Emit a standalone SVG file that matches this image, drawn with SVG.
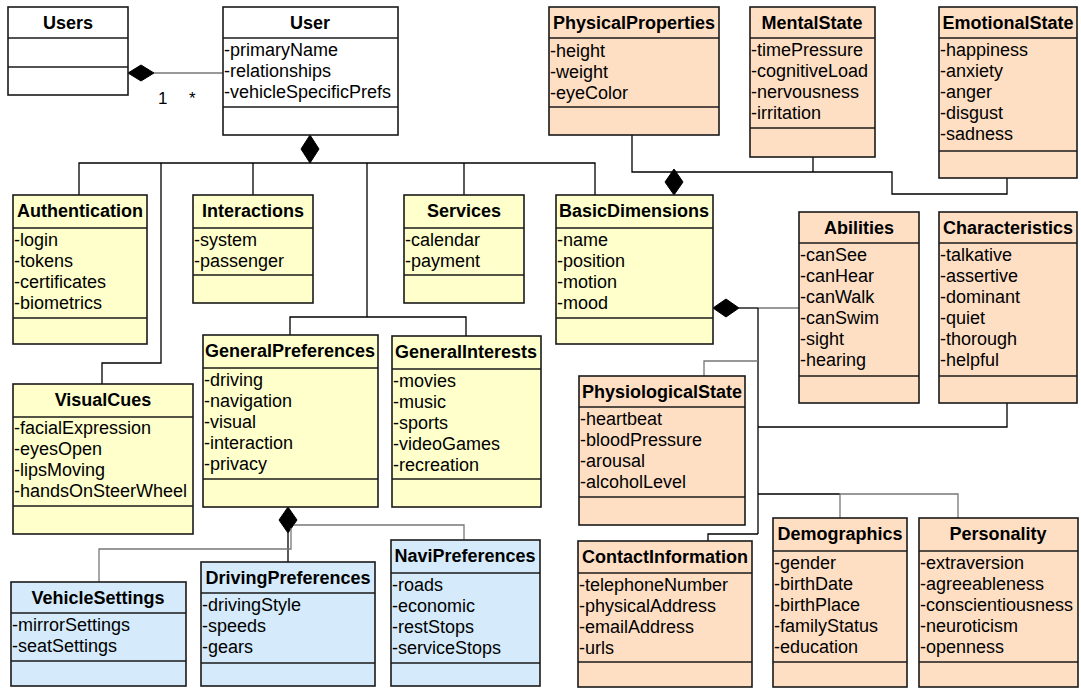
<svg xmlns="http://www.w3.org/2000/svg" width="1081" height="690" viewBox="0 0 1081 690">
<style>
.w{fill:#ffffff;stroke:#1a1a1a;stroke-width:1.6}
.y{fill:#ffffcc;stroke:#1a1a1a;stroke-width:1.6}
.p{fill:#ffdfc4;stroke:#1a1a1a;stroke-width:1.6}
.b{fill:#d5ebfb;stroke:#1a1a1a;stroke-width:1.6}
.d{stroke:#1a1a1a;stroke-width:1.6}
.t{font-family:"Liberation Sans",Arial,sans-serif;font-size:18px;font-weight:bold;text-anchor:middle;fill:#000}
.a{font-family:"Liberation Sans",Arial,sans-serif;font-size:18px;fill:#000}
.m{font-family:"Liberation Sans",Arial,sans-serif;font-size:17px;fill:#000000}
.k{fill:none;stroke:#000;stroke-width:1.3}
.g{fill:none;stroke:#777;stroke-width:1.3}
.dm{fill:#000;stroke:#000;stroke-width:1}
</style>
<g id="connectors">
<line class="g" x1="154" y1="73" x2="223" y2="73"/>
<path class="dm" d="M128,73 L141,65 L154,73 L141,81 Z"/>
<text class="m" x="158" y="104">1</text>
<text class="m" x="189" y="104">*</text>
<path class="dm" d="M310,135 L319,149 L310,163 L301,149 Z"/>
<polyline class="k" points="79,195 79,163 595,163 595,195"/>
<polyline class="k" points="161,163 161,363 102,363 102,384"/>
<line class="k" x1="253" y1="163" x2="253" y2="195"/>
<line class="k" x1="464" y1="163" x2="464" y2="195"/>
<line class="k" x1="367" y1="163" x2="367" y2="317"/>
<polyline class="k" points="290,335 290,317 466,317 466,336"/>
<polyline class="k" points="632,135 632,172 892,172 892,194 1007,194 1007,178"/>
<line class="k" x1="813" y1="157" x2="813" y2="172"/>
<path class="dm" d="M674,169 L683,182 L674,195 L665,182 Z"/>
<path class="dm" d="M713,308 L726,299 L739,308 L726,317 Z"/>
<line class="k" x1="739" y1="308" x2="758" y2="308"/>
<line class="g" x1="758" y1="308" x2="799" y2="308"/>
<line class="k" x1="758" y1="308" x2="758" y2="534"/>
<polyline class="g" points="758,361 704,361 704,376"/>
<polyline class="k" points="758,427 1007,427 1007,403"/>
<line class="k" x1="758" y1="494" x2="840" y2="494"/>
<polyline class="g" points="840,518 840,494 958,494 958,518"/>
<polyline class="k" points="758,534 708,534 708,541"/>
<path class="dm" d="M288,507 L297,520 L288,533 L279,520 Z"/>
<line class="k" x1="288" y1="533" x2="288" y2="562"/>
<polyline class="g" points="291,528 291,549 99,549 99,582"/>
<polyline class="g" points="294,525 464,525 464,540"/>
</g>
<g id="Users">
<rect class="w" x="8" y="7" width="120" height="88"/>
<line class="d" x1="8" y1="38" x2="128" y2="38"/>
<line class="d" x1="8" y1="67" x2="128" y2="67"/>
<text class="t" x="68" y="29">Users</text>
</g>
<g id="User">
<rect class="w" x="223" y="7" width="175" height="128"/>
<line class="d" x1="223" y1="38" x2="398" y2="38"/>
<line class="d" x1="223" y1="107" x2="398" y2="107"/>
<text class="t" x="310" y="29">User</text>
<text class="a" x="224" y="56">-primaryName</text>
<text class="a" x="224" y="77">-relationships</text>
<text class="a" x="224" y="98">-vehicleSpecificPrefs</text>
</g>
<g id="PhysicalProperties">
<rect class="p" x="549" y="7" width="170" height="128"/>
<line class="d" x1="549" y1="38" x2="719" y2="38"/>
<line class="d" x1="549" y1="107" x2="719" y2="107"/>
<text class="t" x="634" y="29">PhysicalProperties</text>
<text class="a" x="550" y="57">-height</text>
<text class="a" x="550" y="78">-weight</text>
<text class="a" x="550" y="99">-eyeColor</text>
</g>
<g id="MentalState">
<rect class="p" x="750" y="7" width="125" height="150"/>
<line class="d" x1="750" y1="38" x2="875" y2="38"/>
<line class="d" x1="750" y1="128" x2="875" y2="128"/>
<text class="t" x="812" y="29">MentalState</text>
<text class="a" x="751" y="56">-timePressure</text>
<text class="a" x="751" y="77">-cognitiveLoad</text>
<text class="a" x="751" y="98">-nervousness</text>
<text class="a" x="751" y="119">-irritation</text>
</g>
<g id="EmotionalState">
<rect class="p" x="939" y="7" width="138" height="171"/>
<line class="d" x1="939" y1="38" x2="1077" y2="38"/>
<line class="d" x1="939" y1="151" x2="1077" y2="151"/>
<text class="t" x="1008" y="29">EmotionalState</text>
<text class="a" x="940" y="56">-happiness</text>
<text class="a" x="940" y="77">-anxiety</text>
<text class="a" x="940" y="98">-anger</text>
<text class="a" x="940" y="119">-disgust</text>
<text class="a" x="940" y="140">-sadness</text>
</g>
<g id="Authentication">
<rect class="y" x="13" y="195" width="134" height="149"/>
<line class="d" x1="13" y1="228" x2="147" y2="228"/>
<line class="d" x1="13" y1="318" x2="147" y2="318"/>
<text class="t" x="80" y="217">Authentication</text>
<text class="a" x="14" y="246">-login</text>
<text class="a" x="14" y="267">-tokens</text>
<text class="a" x="14" y="288">-certificates</text>
<text class="a" x="14" y="309">-biometrics</text>
</g>
<g id="Interactions">
<rect class="y" x="193" y="195" width="120" height="108"/>
<line class="d" x1="193" y1="228" x2="313" y2="228"/>
<line class="d" x1="193" y1="275" x2="313" y2="275"/>
<text class="t" x="253" y="217">Interactions</text>
<text class="a" x="194" y="246">-system</text>
<text class="a" x="194" y="267">-passenger</text>
</g>
<g id="Services">
<rect class="y" x="404" y="195" width="120" height="108"/>
<line class="d" x1="404" y1="228" x2="524" y2="228"/>
<line class="d" x1="404" y1="275" x2="524" y2="275"/>
<text class="t" x="464" y="217">Services</text>
<text class="a" x="405" y="246">-calendar</text>
<text class="a" x="405" y="267">-payment</text>
</g>
<g id="BasicDimensions">
<rect class="y" x="556" y="195" width="157" height="149"/>
<line class="d" x1="556" y1="228" x2="713" y2="228"/>
<line class="d" x1="556" y1="318" x2="713" y2="318"/>
<text class="t" x="634" y="217">BasicDimensions</text>
<text class="a" x="557" y="246">-name</text>
<text class="a" x="557" y="267">-position</text>
<text class="a" x="557" y="288">-motion</text>
<text class="a" x="557" y="309">-mood</text>
</g>
<g id="Abilities">
<rect class="p" x="799" y="212" width="120" height="191"/>
<line class="d" x1="799" y1="243" x2="919" y2="243"/>
<line class="d" x1="799" y1="376" x2="919" y2="376"/>
<text class="t" x="859" y="234">Abilities</text>
<text class="a" x="800" y="261">-canSee</text>
<text class="a" x="800" y="282">-canHear</text>
<text class="a" x="800" y="303">-canWalk</text>
<text class="a" x="800" y="324">-canSwim</text>
<text class="a" x="800" y="345">-sight</text>
<text class="a" x="800" y="366">-hearing</text>
</g>
<g id="Characteristics">
<rect class="p" x="939" y="212" width="138" height="191"/>
<line class="d" x1="939" y1="243" x2="1077" y2="243"/>
<line class="d" x1="939" y1="376" x2="1077" y2="376"/>
<text class="t" x="1008" y="234">Characteristics</text>
<text class="a" x="940" y="261">-talkative</text>
<text class="a" x="940" y="282">-assertive</text>
<text class="a" x="940" y="303">-dominant</text>
<text class="a" x="940" y="324">-quiet</text>
<text class="a" x="940" y="345">-thorough</text>
<text class="a" x="940" y="366">-helpful</text>
</g>
<g id="VisualCues">
<rect class="y" x="13" y="384" width="180" height="150"/>
<line class="d" x1="13" y1="417" x2="193" y2="417"/>
<line class="d" x1="13" y1="506" x2="193" y2="506"/>
<text class="t" x="103" y="406">VisualCues</text>
<text class="a" x="14" y="434">-facialExpression</text>
<text class="a" x="14" y="455">-eyesOpen</text>
<text class="a" x="14" y="476">-lipsMoving</text>
<text class="a" x="14" y="497">-handsOnSteerWheel</text>
</g>
<g id="GeneralPreferences">
<rect class="y" x="203" y="335" width="175" height="172"/>
<line class="d" x1="203" y1="368" x2="378" y2="368"/>
<line class="d" x1="203" y1="479" x2="378" y2="479"/>
<text class="t" x="290" y="357">GeneralPreferences</text>
<text class="a" x="204" y="386">-driving</text>
<text class="a" x="204" y="407">-navigation</text>
<text class="a" x="204" y="428">-visual</text>
<text class="a" x="204" y="449">-interaction</text>
<text class="a" x="204" y="470">-privacy</text>
</g>
<g id="GeneralInterests">
<rect class="y" x="392" y="336" width="149" height="171"/>
<line class="d" x1="392" y1="369" x2="541" y2="369"/>
<line class="d" x1="392" y1="479" x2="541" y2="479"/>
<text class="t" x="466" y="358">GeneralInterests</text>
<text class="a" x="393" y="387">-movies</text>
<text class="a" x="393" y="408">-music</text>
<text class="a" x="393" y="429">-sports</text>
<text class="a" x="393" y="450">-videoGames</text>
<text class="a" x="393" y="471">-recreation</text>
</g>
<g id="PhysiologicalState">
<rect class="p" x="579" y="376" width="166" height="149"/>
<line class="d" x1="579" y1="407" x2="745" y2="407"/>
<line class="d" x1="579" y1="497" x2="745" y2="497"/>
<text class="t" x="662" y="398">PhysiologicalState</text>
<text class="a" x="580" y="425">-heartbeat</text>
<text class="a" x="580" y="446">-bloodPressure</text>
<text class="a" x="580" y="467">-arousal</text>
<text class="a" x="580" y="488">-alcoholLevel</text>
</g>
<g id="VehicleSettings">
<rect class="b" x="11" y="582" width="175" height="104"/>
<line class="d" x1="11" y1="613" x2="186" y2="613"/>
<line class="d" x1="11" y1="661" x2="186" y2="661"/>
<text class="t" x="98" y="604">VehicleSettings</text>
<text class="a" x="12" y="631">-mirrorSettings</text>
<text class="a" x="12" y="652">-seatSettings</text>
</g>
<g id="DrivingPreferences">
<rect class="b" x="201" y="562" width="174" height="124"/>
<line class="d" x1="201" y1="593" x2="375" y2="593"/>
<line class="d" x1="201" y1="663" x2="375" y2="663"/>
<text class="t" x="288" y="584">DrivingPreferences</text>
<text class="a" x="202" y="611">-drivingStyle</text>
<text class="a" x="202" y="632">-speeds</text>
<text class="a" x="202" y="653">-gears</text>
</g>
<g id="NaviPreferences">
<rect class="b" x="391" y="540" width="149" height="146"/>
<line class="d" x1="391" y1="573" x2="540" y2="573"/>
<line class="d" x1="391" y1="663" x2="540" y2="663"/>
<text class="t" x="465" y="562">NaviPreferences</text>
<text class="a" x="392" y="591">-roads</text>
<text class="a" x="392" y="612">-economic</text>
<text class="a" x="392" y="633">-restStops</text>
<text class="a" x="392" y="654">-serviceStops</text>
</g>
<g id="ContactInformation">
<rect class="p" x="578" y="541" width="174" height="146"/>
<line class="d" x1="578" y1="573" x2="752" y2="573"/>
<line class="d" x1="578" y1="662" x2="752" y2="662"/>
<text class="t" x="665" y="563">ContactInformation</text>
<text class="a" x="579" y="591">-telephoneNumber</text>
<text class="a" x="579" y="612">-physicalAddress</text>
<text class="a" x="579" y="633">-emailAddress</text>
<text class="a" x="579" y="654">-urls</text>
</g>
<g id="Demographics">
<rect class="p" x="773" y="518" width="134" height="169"/>
<line class="d" x1="773" y1="551" x2="907" y2="551"/>
<line class="d" x1="773" y1="662" x2="907" y2="662"/>
<text class="t" x="840" y="540">Demographics</text>
<text class="a" x="774" y="569">-gender</text>
<text class="a" x="774" y="590">-birthDate</text>
<text class="a" x="774" y="611">-birthPlace</text>
<text class="a" x="774" y="632">-familyStatus</text>
<text class="a" x="774" y="653">-education</text>
</g>
<g id="Personality">
<rect class="p" x="919" y="518" width="159" height="169"/>
<line class="d" x1="919" y1="551" x2="1078" y2="551"/>
<line class="d" x1="919" y1="662" x2="1078" y2="662"/>
<text class="t" x="998" y="540">Personality</text>
<text class="a" x="920" y="569">-extraversion</text>
<text class="a" x="920" y="590">-agreeableness</text>
<text class="a" x="920" y="611">-conscientiousness</text>
<text class="a" x="920" y="632">-neuroticism</text>
<text class="a" x="920" y="653">-openness</text>
</g>
</svg>
